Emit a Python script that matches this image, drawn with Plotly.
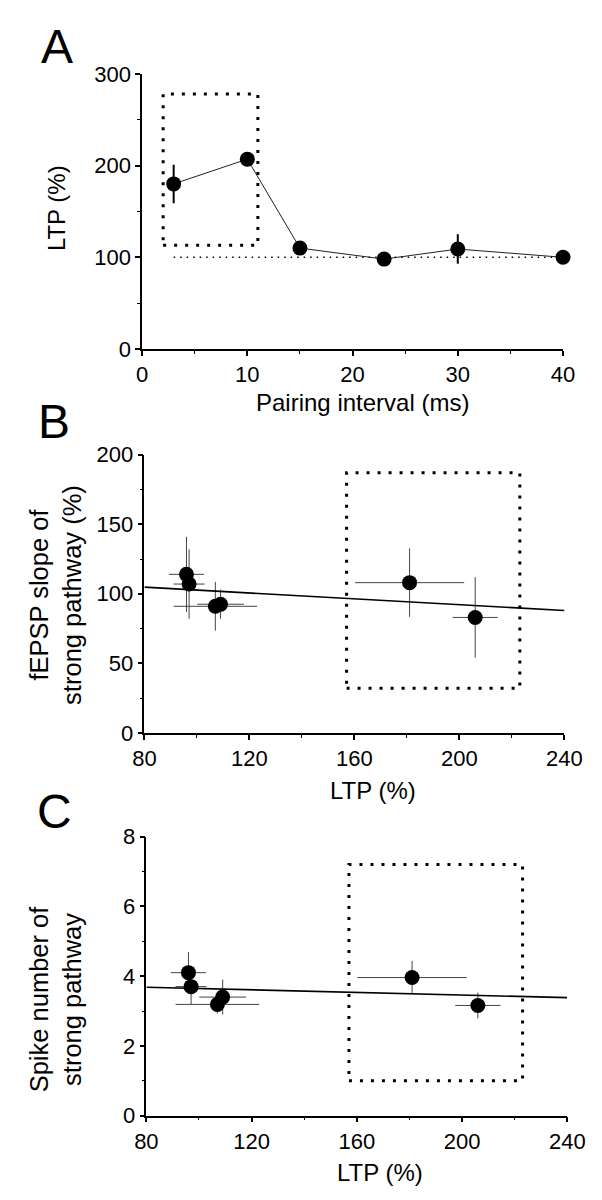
import numpy as np
import plotly.graph_objects as go

# ---------------- data ----------------
# Panel A
pairing_interval = [3, 10, 15, 23, 30, 40]
ltp_a = [180, 207, 110, 98, 109, 100]
ltp_a_err = [21, 5, 5, 4, 16, 4]
baseline_a = [3, 40, 100]          # x0, x1, y of dotted 100% line
box_a = [2, 11, 113, 278]          # x0, x1, y0, y1

# Panels B and C (shared LTP values)
ltp_bc = [96, 97, 107, 109, 181, 206]
ltp_bc_err = [6.7, 5.9, 15.9, 8.9, 20.8, 8.6]
fepsp = [114, 107, 91, 92.5, 108, 83]
fepsp_err = [27, 25, 17.5, 10.5, 24.6, 29]
box_b = [157, 223, 32, 187]

spikes = [4.10, 3.70, 3.19, 3.40, 3.96, 3.16]
spikes_err = [0.59, 0.51, 0.26, 0.50, 0.48, 0.37]
box_c = [157, 223, 1.0, 7.2]

fit_range = [80, 240]

# tick settings
a_xticks = [0, 10, 20, 30, 40]
a_yticks = [0, 100, 200, 300]
bc_xticks = [80, 120, 160, 200, 240]
b_yticks = [0, 50, 100, 150, 200]
c_yticks = [0, 2, 4, 6, 8]

# ---------------- figure ----------------
W, H = 602, 1200
FONT = "Liberation Sans, Arial, sans-serif"

def px_x(p):
    return p / W

def px_y(p):
    return 1 - p / H

fig = go.Figure()

# Panel A
fig.add_trace(go.Scatter(
    x=pairing_interval, y=ltp_a, mode="lines+markers",
    line=dict(color="#222", width=1),
    marker=dict(size=15, color="black"),
    error_y=dict(type="data", array=ltp_a_err, thickness=2, width=0, color="black"),
    cliponaxis=False, xaxis="x", yaxis="y", showlegend=False))

# Panel B
fig.add_trace(go.Scatter(
    x=ltp_bc, y=fepsp, mode="markers",
    marker=dict(size=15, color="black"),
    error_x=dict(type="data", array=ltp_bc_err, thickness=1, width=0, color="#444"),
    error_y=dict(type="data", array=fepsp_err, thickness=1, width=0, color="#444"),
    cliponaxis=False, xaxis="x2", yaxis="y2", showlegend=False))
sb, ib = np.polyfit(ltp_bc, fepsp, 1)
fig.add_trace(go.Scatter(
    x=fit_range, y=[sb * v + ib for v in fit_range], mode="lines",
    line=dict(color="black", width=1.6), xaxis="x2", yaxis="y2",
    showlegend=False, cliponaxis=False))

# Panel C
fig.add_trace(go.Scatter(
    x=ltp_bc, y=spikes, mode="markers",
    marker=dict(size=15, color="black"),
    error_x=dict(type="data", array=ltp_bc_err, thickness=1, width=0, color="#444"),
    error_y=dict(type="data", array=spikes_err, thickness=1, width=0, color="#444"),
    cliponaxis=False, xaxis="x3", yaxis="y3", showlegend=False))
sc, ic = np.polyfit(ltp_bc, spikes, 1)
fig.add_trace(go.Scatter(
    x=fit_range, y=[sc * v + ic for v in fit_range], mode="lines",
    line=dict(color="black", width=1.6), xaxis="x3", yaxis="y3",
    showlegend=False, cliponaxis=False))

# shapes
box_line = dict(color="black", width=3, dash="3px,8px")
shapes = [
    dict(type="rect", xref="x", yref="y", x0=box_a[0], x1=box_a[1], y0=box_a[2], y1=box_a[3], line=box_line),
    dict(type="line", xref="x", yref="y", x0=baseline_a[0], x1=baseline_a[1], y0=baseline_a[2], y1=baseline_a[2],
         line=dict(color="black", width=1.5, dash="1.5px,5px"), layer="below"),
    dict(type="rect", xref="x2", yref="y2", x0=box_b[0], x1=box_b[1], y0=box_b[2], y1=box_b[3], line=box_line),
    dict(type="rect", xref="x3", yref="y3", x0=box_c[0], x1=box_c[1], y0=box_c[2], y1=box_c[3], line=box_line),
]

def axis(domain, rng, ticks, minor_dtick, anchor):
    return dict(
        domain=domain, range=rng, anchor=anchor,
        tickvals=ticks, ticks="outside", ticklen=5, tickwidth=1.5, tickcolor="black",
        minor=dict(dtick=minor_dtick, tick0=rng[0], ticks="outside", ticklen=3, tickwidth=1, tickcolor="black"),
        showline=True, linecolor="black", linewidth=1.5,
        showgrid=False, zeroline=False,
        tickfont=dict(family=FONT, size=22, color="black"),
    )

fig.update_layout(
    width=W, height=H, margin=dict(l=0, r=0, t=0, b=0),
    paper_bgcolor="white", plot_bgcolor="white",
    shapes=shapes,
    xaxis=axis([px_x(128.5), px_x(571.5)], [0, 40], a_xticks, 5, "y"),
    yaxis=axis([px_y(336), px_y(55)], [0, 300], a_yticks, 50, "x"),
    xaxis2=axis([px_x(131), px_x(573)], [80, 240], bc_xticks, 20, "y2"),
    yaxis2=axis([px_y(728), px_y(444)], [0, 200], b_yticks, 25, "x2"),
    xaxis3=axis([px_x(133), px_x(576)], [80, 240], bc_xticks, 20, "y3"),
    yaxis3=axis([px_y(1119), px_y(834)], [0, 8], c_yticks, 1, "x3"),
)

def ann(text, x, y, size, angle=0):
    return dict(text=text, x=px_x(x), y=px_y(y), xref="paper", yref="paper",
                showarrow=False, textangle=angle, xanchor="center", yanchor="middle",
                font=dict(family=FONT, size=size, color="black"))

fig.update_layout(annotations=[
    ann("A", 39, 27, 48),
    ann("B", 36, 410, 48),
    ann("C", 36, 808, 48),
    ann("LTP (%)", 38, 192, 24, -90),
    ann("Pairing interval (ms)", 360, 391, 24),
    ann("fEPSP slope of<br>strong pathway (%)", 38, 587, 25.5, -90),
    ann("LTP (%)", 371, 787, 24),
    ann("Spike number of<br>strong pathway", 37, 1000, 25.5, -90),
    ann("LTP (%)", 379, 1177, 24),
])

fig.write_html("out.html")
